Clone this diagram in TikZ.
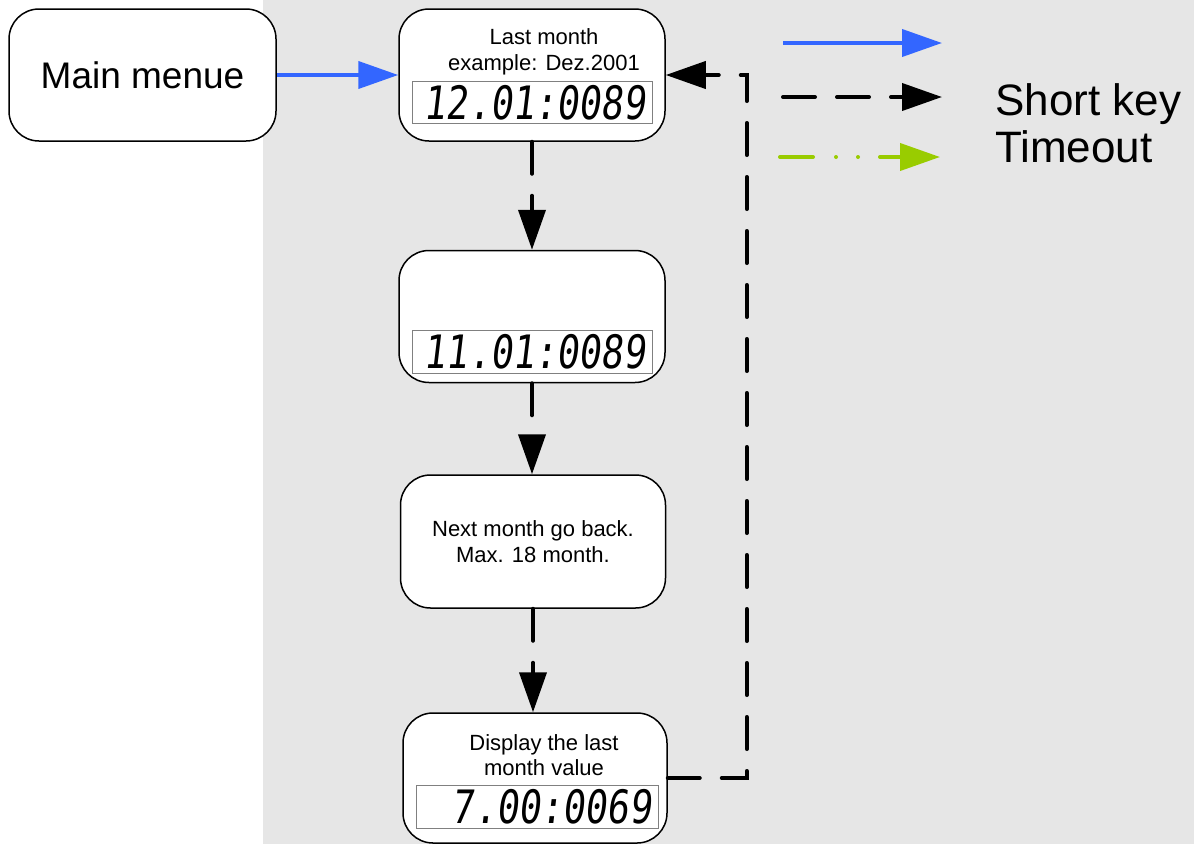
\documentclass[tikz,border=0pt]{standalone}
\usepackage{fontspec}
\setmainfont{Liberation Sans}
\newfontfamily\lcdfont[FakeStretch=0.8,FakeSlant=0.12]{DejaVu Sans Mono}
\usetikzlibrary{arrows.meta}
\definecolor{menublue}{HTML}{3366FF}
\definecolor{timegreen}{HTML}{99CC00}
\definecolor{bggray}{HTML}{E6E6E6}
\definecolor{lcdgray}{HTML}{808080}

\begin{document}
\begin{tikzpicture}[x=1pt,y=-1pt,
    state/.style={draw, line width=1.5pt, rounded corners=30pt, fill=white,
        minimum width=266pt, minimum height=132pt, inner sep=0pt},
    lcdbox/.style={draw=lcdgray, line width=1pt, fill=white,
        minimum width=240pt, minimum height=42pt, inner sep=0pt},
    lcdtext/.style={font=\lcdfont\fontsize{46}{46}\selectfont, anchor=east, inner sep=0pt},
    boxlabel/.style={font=\fontsize{22}{26}\selectfont, align=center, inner sep=0pt},
    tip/.style={-{Triangle[length=40pt,width=27pt]}},
    menuedge/.style={tip, draw=menublue, line width=4pt},
    keyedge/.style={tip, line width=4pt, line cap=round, dash pattern=on 32pt off 22pt},
    timeedge/.style={tip, draw=timegreen, line width=4pt, line cap=round,
        dash pattern=on 33pt off 23pt on 0pt off 22pt on 0pt off 22pt}]

        %Background
        \useasboundingbox (0,0) rectangle (1194,844);
        \fill[bggray] (263,0) rectangle (1194,844);

        %Boxes
        %Main menue
        \node[state, minimum width=267pt, font=\fontsize{37}{37}\selectfont] (mainmenu) at (142.5,75) {Main menue};

        %Last month
        \node[state] (lastmonth) at (532,75) {};
        \node[boxlabel] (lastmonthtext) at (544,51.5) {Last month\\example: Dez.2001};
        \node[lcdbox] (lcdlast) at (532,102.5) {};
        \node[lcdtext] (lcdlasttext) at ([xshift=-7pt]lcdlast.east) {12.01:0089};

        %Month before
        \node[state] (prevmonth) at (532,316.5) {};
        \node[lcdbox, minimum height=43pt] (lcdprev) at (532,351.5) {};
        \node[lcdtext] (lcdprevtext) at ([xshift=-7pt]lcdprev.east) {11.01:0089};

        %Go back
        \node[state, boxlabel, minimum width=265pt, minimum height=133pt] (goback) at (533,541.5) {Next month go back.\\Max. 18 month.};

        %Last value
        \node[state, minimum width=264pt, minimum height=130pt] (lastvalue) at (535,778) {};
        \node[boxlabel, font=\fontsize{22}{25}\selectfont] (lastvaluetext) at (544,755) {Display the last\\month value};
        \node[lcdbox, minimum width=242pt, minimum height=43pt] (lcdvalue) at (537,806.5) {};
        \node[lcdtext] (lcdvaluetext) at ([xshift=-7pt]lcdvalue.east) {7.00:0069};

        %Edges
        \draw[menuedge] (mainmenu.east) -- (lastmonth.west);
        \draw[keyedge] (lastmonth.south) -- (prevmonth.north);
        \draw[keyedge] (prevmonth.south) -- (prevmonth.south |- goback.north);
        \draw[keyedge] (goback.south) -- (goback.south |- lastvalue.north);
        \draw[keyedge] (lastvalue.east) -- ++(79,0) |- (lastmonth.east);

        %Legend
        \coordinate (menustart) at (783,43);
        \coordinate (menuend) at (942,43);
        \coordinate (keystart) at (783,97);
        \coordinate (keyend) at (942,97);
        \coordinate (timestart) at (780,157);
        \coordinate (timeend) at (940,157);

        \draw[menuedge] (menustart) -- (menuend);
        \draw[keyedge] (keystart) -- (keyend);
        \draw[timeedge] (timestart) -- (timeend);

        \node[anchor=base west, inner sep=0pt, font=\fontsize{44}{44}\selectfont] (shortkey) at (995,115) {Short key};
        \node[anchor=base west, inner sep=0pt, font=\fontsize{44}{44}\selectfont] (timeout) at (995,162) {Timeout};

\end{tikzpicture}
\end{document}
